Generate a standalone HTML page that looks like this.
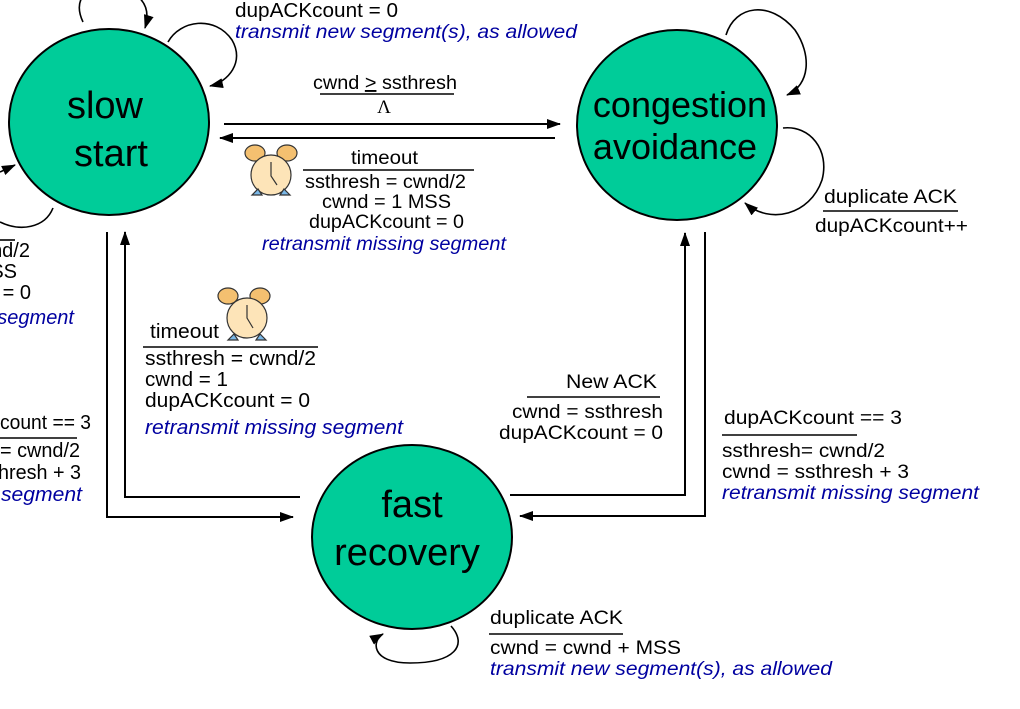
<!DOCTYPE html>
<html><head><meta charset="utf-8"><style>
html,body{margin:0;padding:0;background:#fff;}
svg{display:block;}
text{font-family:"Liberation Sans",sans-serif;font-size:19px;fill:#000;}
.m{font-size:20px;}
.b{fill:#0000a0;font-style:italic;}
.big{font-size:38px;}
.big2{font-size:36px;}
</style></head><body>
<svg width="1020" height="709" viewBox="0 0 1020 709" xmlns="http://www.w3.org/2000/svg">
<defs>
<marker id="a2" markerWidth="14" markerHeight="10" refX="13" refY="5" orient="auto" markerUnits="userSpaceOnUse">
<path d="M0,0 L14,5 L0,10 z" fill="#000"/></marker>
</defs>
<g fill="none" stroke="#000" stroke-width="1.6">
<path d="M83,22 C75,5 80,-10 100,-12 C140,-14 152,5 145,28" marker-end="url(#a2)"/>
<path d="M168,42 C180,20 215,15 232,40 C245,62 228,82 210,86" marker-end="url(#a2)"/>
<path d="M53,208 C45,228 20,232 0,222"/>
<path d="M0,172 L15,165" marker-end="url(#a2)"/>
<path d="M726,35 C735,5 770,0 795,30 C812,55 810,85 787,95" marker-end="url(#a2)"/>
<path d="M783,128 C810,125 830,150 822,180 C810,215 770,225 745,203" marker-end="url(#a2)"/>
<path d="M451,626 C468,645 455,663 410,663 C370,663 372,640 383,634" marker-end="url(#a2)"/>
</g>
<g fill="none" stroke="#000" stroke-width="2">
<path d="M224,124 L560,124" marker-end="url(#a2)"/>
<path d="M555,138 L220,138" marker-end="url(#a2)"/>
<path d="M107,232 L107,517 L293,517" marker-end="url(#a2)"/>
<path d="M300,497 L125,497 L125,232" marker-end="url(#a2)"/>
<path d="M705,232 L705,516 L520,516" marker-end="url(#a2)"/>
<path d="M510,495 L685,495 L685,233" marker-end="url(#a2)"/>
</g>
<ellipse cx="109" cy="122" rx="100" ry="93" fill="#00cc99" stroke="#000" stroke-width="2"/>
<ellipse cx="677" cy="125" rx="100" ry="95" fill="#00cc99" stroke="#000" stroke-width="2"/>
<ellipse cx="412" cy="537" rx="100" ry="92" fill="#00cc99" stroke="#000" stroke-width="2"/>
<text class="big" x="105" y="118" text-anchor="middle">slow</text>
<text class="big" x="111" y="166" text-anchor="middle">start</text>
<text class="big2" x="680" y="117" text-anchor="middle">congestion</text>
<text class="big2" x="675" y="159" text-anchor="middle">avoidance</text>
<text class="big" x="412" y="517" text-anchor="middle">fast</text>
<text class="big" x="407" y="565" text-anchor="middle">recovery</text>
<g stroke="#333" stroke-width="1.2">
<ellipse cx="255" cy="153" rx="10" ry="8" fill="#f4c070"/>
<ellipse cx="287" cy="153" rx="10" ry="8" fill="#f4c070"/>
<ellipse cx="271" cy="175" rx="20" ry="20" fill="#fde4b8"/>
<path d="M252,195 l6,-6 l4,6z M290,195 l-6,-6 l-4,6z" fill="#7ab8e8"/>
<path d="M271,162 L271,176 L277,185" fill="none"/>
<ellipse cx="228" cy="296" rx="10" ry="8" fill="#f4c070"/>
<ellipse cx="260" cy="296" rx="10" ry="8" fill="#f4c070"/>
<ellipse cx="247" cy="318" rx="20" ry="20" fill="#fde4b8"/>
<path d="M228,340 l6,-6 l4,6z M266,340 l-6,-6 l-4,6z" fill="#7ab8e8"/>
<path d="M247,305 L247,318 L253,328" fill="none"/>
</g>
<g stroke="#000" stroke-width="1.6">
<line x1="320" y1="94" x2="454" y2="94"/>
<line x1="303" y1="170" x2="474" y2="170"/>
<line x1="143" y1="347" x2="318" y2="347"/>
<line x1="527" y1="397" x2="660" y2="397"/>
<line x1="722" y1="435" x2="857" y2="435"/>
<line x1="823" y1="211" x2="958" y2="211"/>
<line x1="489" y1="634" x2="623" y2="634"/>
<line x1="0" y1="438" x2="77" y2="438"/>
<line x1="0" y1="240" x2="15" y2="240"/>
</g>
<text class="m" x="235" y="17" textLength="163" lengthAdjust="spacingAndGlyphs">dupACKcount = 0</text>
<text class="b" x="235" y="38" textLength="342" lengthAdjust="spacingAndGlyphs">transmit new segment(s), as allowed</text>
<text class="b" x="650" y="-4">segment(s), as allowed</text>
<text x="313" y="89" textLength="144" lengthAdjust="spacingAndGlyphs">cwnd <tspan text-decoration="underline">&gt;</tspan> ssthresh</text>
<text x="384" y="113" text-anchor="middle" style="font-family:'Liberation Serif',serif">Λ</text>
<text x="351" y="164" textLength="67" lengthAdjust="spacingAndGlyphs">timeout</text>
<text x="305" y="188" textLength="161" lengthAdjust="spacingAndGlyphs">ssthresh = cwnd/2</text>
<text x="322" y="208" textLength="129" lengthAdjust="spacingAndGlyphs">cwnd = 1 MSS</text>
<text x="309" y="228" textLength="155" lengthAdjust="spacingAndGlyphs">dupACKcount = 0</text>
<text class="b" x="262" y="250" textLength="244" lengthAdjust="spacingAndGlyphs">retransmit missing segment</text>
<text x="824" y="203" textLength="133" lengthAdjust="spacingAndGlyphs">duplicate ACK</text>
<text x="815" y="232" textLength="153" lengthAdjust="spacingAndGlyphs">dupACKcount++</text>
<text class="m" x="30" y="257" text-anchor="end">nd/2</text>
<text class="m" x="17" y="278" text-anchor="end">SS</text>
<text class="m" x="31" y="299" text-anchor="end">= 0</text>
<text class="b m" x="74" y="324" text-anchor="end">segment</text>
<text class="m" x="0" y="429" textLength="91" lengthAdjust="spacingAndGlyphs">count == 3</text>
<text class="m" x="0" y="457" textLength="80" lengthAdjust="spacingAndGlyphs">= cwnd/2</text>
<text class="m" x="-2" y="479" textLength="83" lengthAdjust="spacingAndGlyphs">hresh + 3</text>
<text class="b m" x="1" y="501" textLength="81" lengthAdjust="spacingAndGlyphs">segment</text>
<text class="m" x="150" y="338" textLength="69" lengthAdjust="spacingAndGlyphs">timeout</text>
<text class="m" x="145" y="365" textLength="171" lengthAdjust="spacingAndGlyphs">ssthresh = cwnd/2</text>
<text class="m" x="145" y="386" textLength="83" lengthAdjust="spacingAndGlyphs">cwnd = 1</text>
<text class="m" x="145" y="407" textLength="165" lengthAdjust="spacingAndGlyphs">dupACKcount = 0</text>
<text class="b m" x="145" y="434" textLength="258" lengthAdjust="spacingAndGlyphs">retransmit missing segment</text>
<text x="566" y="388" textLength="91" lengthAdjust="spacingAndGlyphs">New ACK</text>
<text x="512" y="418" textLength="151" lengthAdjust="spacingAndGlyphs">cwnd = ssthresh</text>
<text x="499" y="439" textLength="164" lengthAdjust="spacingAndGlyphs">dupACKcount = 0</text>
<text x="724" y="424" textLength="178" lengthAdjust="spacingAndGlyphs">dupACKcount == 3</text>
<text x="722" y="457" textLength="163" lengthAdjust="spacingAndGlyphs">ssthresh= cwnd/2</text>
<text x="722" y="478" textLength="187" lengthAdjust="spacingAndGlyphs">cwnd = ssthresh + 3</text>
<text class="b" x="722" y="499" textLength="257" lengthAdjust="spacingAndGlyphs">retransmit missing segment</text>
<text x="490" y="624" textLength="133" lengthAdjust="spacingAndGlyphs">duplicate ACK</text>
<text x="490" y="654" textLength="191" lengthAdjust="spacingAndGlyphs">cwnd = cwnd + MSS</text>
<text class="b" x="490" y="675" textLength="342" lengthAdjust="spacingAndGlyphs">transmit new segment(s), as allowed</text>
</svg>
</body></html>
